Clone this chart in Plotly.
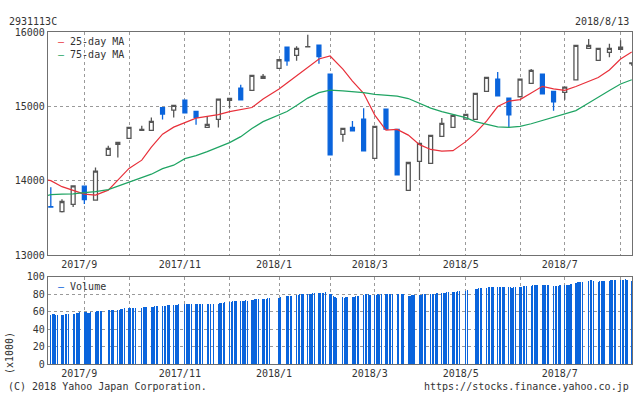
import pandas as pd
import plotly.graph_objects as go

# ---------------- data ----------------
week_dates = ["2017-08-14", "2017-08-21", "2017-08-28", "2017-09-04", "2017-09-11", "2017-09-19",
              "2017-09-25", "2017-10-02", "2017-10-10", "2017-10-16", "2017-10-23", "2017-10-30",
              "2017-11-06", "2017-11-13", "2017-11-20", "2017-11-27", "2017-12-04", "2017-12-11",
              "2017-12-18", "2017-12-25", "2018-01-04", "2018-01-09", "2018-01-15", "2018-01-22",
              "2018-01-29", "2018-02-05", "2018-02-13", "2018-02-19", "2018-02-26", "2018-03-05",
              "2018-03-12", "2018-03-19", "2018-03-26", "2018-04-02", "2018-04-09", "2018-04-16",
              "2018-04-23", "2018-05-01", "2018-05-07", "2018-05-14", "2018-05-21", "2018-05-28",
              "2018-06-04", "2018-06-11", "2018-06-18", "2018-06-25", "2018-07-02", "2018-07-09",
              "2018-07-17", "2018-07-23", "2018-07-30", "2018-08-06", "2018-08-13"]

open_ = [13655, 13588, 13683, 13929, 13740, 14342, 14490, 14570, 14678, 14678, 14982, 14951,
         15085, 14933, 14718, 14826, 15081, 15247, 15216, 15377, 15512, 15798, 15687, 15800,
         15825, 15435, 14624, 14718, 14830, 14301, 14964, 14691, 13871, 14261, 14234, 14597,
         14718, 14830, 14826, 15202, 15368, 15112, 15130, 15310, 15435, 15202, 15189, 15358,
         15781, 15619, 15727, 15767, 15575]
high = [13915, 13754, 13935, 13938, 14180, 14471, 14520, 14720, 14740, 14853, 14986, 15016,
        15088, 14936, 14870, 15101, 15110, 15291, 15420, 15435, 15629, 15800, 15808, 15964,
        15827, 15437, 14708, 14803, 14974, 14734, 14966, 14693, 14249, 14505, 14613, 14843,
        14882, 14895, 15177, 15393, 15462, 15114, 15370, 15502, 15437, 15204, 15262, 15823,
        15906, 15783, 15843, 15888, 15590]
low = [13645, 13575, 13650, 13690, 13735, 14340, 14315, 14565, 14676, 14675, 14826, 14853,
       14912, 14753, 14715, 14718, 14971, 15085, 15214, 15375, 15510, 15547, 15614, 15798,
       15574, 14345, 14525, 14671, 14401, 14299, 14693, 14079, 13869, 14010, 14232, 14595,
       14716, 14828, 14824, 15200, 15141, 14718, 15128, 15308, 15168, 14941, 15089, 15356,
       15779, 15617, 15660, 15765, 15545]
close = [13648, 13723, 13933, 13750, 14130, 14436, 14517, 14718, 14691, 14799, 14897, 15014,
         14915, 14853, 14759, 15099, 15108, 15089, 15418, 15404, 15627, 15614, 15781, 15804,
         15668, 14350, 14705, 14673, 14403, 14732, 14695, 14081, 14247, 14503, 14611, 14772,
         14880, 14893, 15175, 15391, 15143, 14888, 15368, 15485, 15170, 15063, 15260, 15821,
         15821, 15781, 15781, 15798, 15585]

ma_dates = ["2017-08-11"] + week_dates
ma25 = [14015, 14003, 13922, 13875, 13821, 13808, 13875, 14009, 14167, 14278, 14453, 14628,
        14722, 14783, 14843, 14866, 14890, 14931, 14954, 14985, 15099, 15233, 15314, 15408,
        15516, 15637, 15677, 15502, 15341, 15176, 14884, 14682, 14691, 14615, 14487, 14422,
        14400, 14406, 14527, 14642, 14803, 14998, 15072, 15092, 15180, 15270, 15237, 15216,
        15267, 15341, 15388, 15489, 15637, 15731]
ma75 = [13800, 13814, 13821, 13825, 13841, 13855, 13882, 13929, 13983, 14043, 14090, 14164,
        14211, 14299, 14339, 14393, 14453, 14514, 14594, 14702, 14796, 14890, 14931, 15011,
        15112, 15186, 15220, 15209, 15202, 15186, 15162, 15153, 15139, 15106, 15041, 14978,
        14931, 14890, 14850, 14796, 14759, 14726, 14718, 14732, 14767, 14812, 14857, 14893,
        14944, 15045, 15128, 15213, 15301, 15358]

# daily volume (x1000), one row per week of trading days
volume_weeks = [
    [57, 58, 58, 57, 57], [57, 57, 58, 58, 58], [58, 58, 59, 59, 60], [60, 60, 59, 59, 60],
    [60, 61, 61, 61, 61], [62, 62, 62, 62], [62, 62, 63, 63, 64], [64, 64, 65, 65, 65],
    [65, 66, 66, 66], [66, 66, 67, 67, 67], [67, 67, 67, 68, 68], [68, 68, 68, 69],
    [69, 69, 69, 69, 69], [69, 69, 69, 69, 69], [69, 69, 69, 69], [69, 70, 70, 70, 71],
    [71, 71, 72, 72, 72], [72, 73, 73, 74, 73], [74, 74, 75, 75, 75], [75, 75, 75, 76, 76],
    [76, 77], [78, 78, 78, 78], [79, 79, 80, 80, 80], [80, 81, 81, 82, 82],
    [82, 82, 82, 82, 83], [81, 80, 78, 77, 76], [77, 76, 77, 77], [77, 77, 78, 78, 78],
    [79, 80, 80, 80, 79], [79, 79, 80, 79, 80], [80, 81, 81, 81, 80], [80, 80, 80, 80],
    [78, 78, 79, 79, 79], [79, 79, 80, 80, 81], [80, 81, 81, 81, 82], [82, 82, 82, 83, 83],
    [83, 83, 83, 84, 84], [84, 85], [86, 86, 87, 87, 87], [87, 88, 88, 88, 89],
    [89, 89, 89, 89, 88], [89, 88, 87, 88, 88], [89, 89, 90, 90, 90], [90, 91, 91, 91, 91],
    [91, 91, 91, 91, 91], [90, 90, 90, 90, 91], [91, 91, 91, 91, 92], [93, 94, 94, 94, 94],
    [95, 96, 96, 95], [94, 95, 95, 95, 95], [95, 96, 96, 96, 96], [96, 97, 97, 98, 97],
    [95],
]
holidays = ["2017-09-18", "2017-10-09", "2017-11-03", "2017-11-23", "2018-01-01", "2018-01-02",
            "2018-01-03", "2018-01-08", "2018-02-12", "2018-03-21", "2018-04-30", "2018-05-03",
            "2018-05-04", "2018-07-16"]

month_tick_dates = ["2017-09-04", "2017-10-02", "2017-11-06", "2017-12-04", "2018-01-04", "2018-02-05",
                    "2018-03-05", "2018-04-02", "2018-05-01", "2018-06-04", "2018-07-02", "2018-08-06"]
month_tick_text = ["2017/9", "", "2017/11", "", "2018/1", "", "2018/3", "", "2018/5", "", "2018/7", ""]

price_ticks = [13000, 14000, 15000, 16000]
price_tick_text = ["13000", "14000", "15000", "16000"]
volume_ticks = [0, 20, 40, 60, 80, 100]
volume_tick_text = ["0", "20", "40", "60", "80", "100"]

# ---------------- build ----------------
trade_days = [d for d in pd.bdate_range("2017-08-14", "2018-08-13")
              if d.strftime("%Y-%m-%d") not in holidays]
vol_values = [v for wk in volume_weeks for v in wk]
n = min(len(trade_days), len(vol_values))
vol_dates = trade_days[:n]
vol_values = vol_values[:n]

W, H = 634, 394
L, R, T, B = 48, 2, 32, 30
PW, PH = W - L - R, H - T - B
def px(x):
    return (x - L) / PW
def py(y):
    return (H - B - y) / PH

BLUE = "#0a64dc"
GRAY = "#555555"
RED = "#e8303a"
GREEN = "#1fa463"
TXT = "#333333"
FONT = "DejaVu Sans Mono"

fig = go.Figure()
fig.add_trace(go.Scatter(x=ma_dates, y=ma25, mode="lines", line=dict(color=RED, width=1.2),
                         showlegend=False, xaxis="x", yaxis="y"))
fig.add_trace(go.Scatter(x=ma_dates, y=ma75, mode="lines", line=dict(color=GREEN, width=1.2),
                         showlegend=False, xaxis="x", yaxis="y"))
fig.add_trace(go.Candlestick(x=week_dates, open=open_, high=high, low=low, close=close,
                             increasing=dict(line=dict(color=GRAY, width=1.3), fillcolor="white"),
                             decreasing=dict(line=dict(color=BLUE, width=1.3), fillcolor=BLUE),
                             whiskerwidth=0, showlegend=False, xaxis="x", yaxis="y",
                             hoverinfo="skip"))
fig.add_trace(go.Bar(x=vol_dates, y=vol_values, marker=dict(color=BLUE, line=dict(width=0)),
                     width=0.15 * 86400000, showlegend=False, xaxis="x2", yaxis="y2"))

xr = ["2017-08-12 05:45", "2018-08-13 03:40"]
axis_common = dict(showline=True, mirror=True, linecolor="#707070", linewidth=1.2,
                   gridcolor="#9a9a9a", griddash="3px,3px", gridwidth=1, zeroline=False,
                   automargin=False, ticks="", tickfont=dict(family=FONT, size=10, color=TXT))
fig.update_layout(
    template="none",
    width=W, height=H, margin=dict(l=L, r=R, t=T, b=B, autoexpand=False),
    paper_bgcolor="white", plot_bgcolor="white",
    xaxis=dict(domain=[0, 1], anchor="y", type="date", range=xr, tickmode="array",
               tickvals=month_tick_dates, ticktext=month_tick_text, ticklabelshift=-5,
               rangeslider=dict(visible=False), **axis_common),
    xaxis2=dict(domain=[0, 1], anchor="y2", type="date", range=xr, matches="x", tickmode="array",
                tickvals=month_tick_dates, ticktext=month_tick_text, ticklabelshift=-5,
                **axis_common),
    yaxis=dict(domain=[py(255.3), 1], anchor="x", range=[13000, 16000], tickmode="array",
               tickvals=price_ticks, ticktext=price_tick_text, **axis_common),
    yaxis2=dict(domain=[0, py(276.7)], anchor="x2", range=[0, 100], tickmode="array",
                tickvals=volume_ticks, ticktext=volume_tick_text, **axis_common),
    bargap=0,
    showlegend=False,
)

def note(text, x, y, xanchor="left", angle=0):
    fig.add_annotation(text=text, x=px(x), y=py(y), xref="paper", yref="paper",
                       xanchor=xanchor, yanchor="middle", showarrow=False, textangle=angle,
                       font=dict(family=FONT, size=10, color=TXT))

note("2931113C", 7, 21)
note("2018/8/13", 631, 21, xanchor="right")
note(f'<span style="color:{RED}">—</span> 25-day MA', 56, 41.7)
note(f'<span style="color:{GREEN}">—</span> 75-day MA', 56, 54.3)
note(f'<span style="color:{BLUE}">—</span> Volume', 56, 286.7)
note("(x1000)", 9, 353, xanchor="center", angle=-90)
note("(C) 2018 Yahoo Japan Corporation.", 6, 386.7)
note("https://stocks.finance.yahoo.co.jp", 631, 386.7, xanchor="right")

fig.write_html("out.html", config={"displayModeBar": False},
               post_script="document.body.style.margin='0';document.body.style.overflow='hidden';")
